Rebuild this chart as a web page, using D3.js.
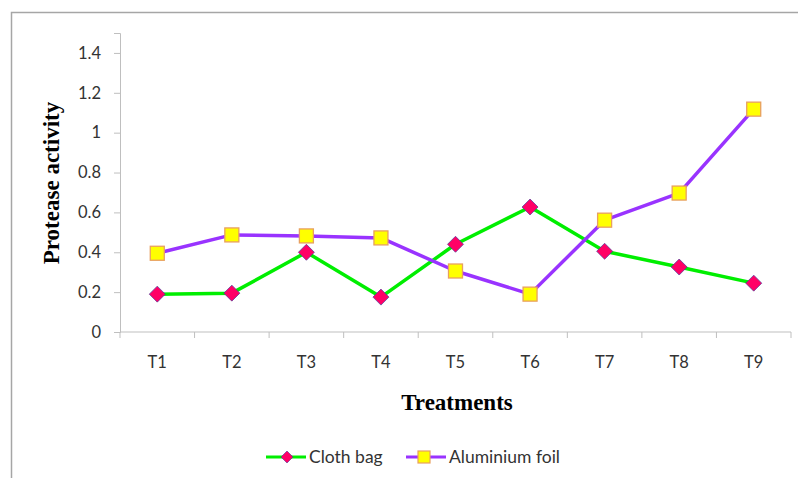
<!DOCTYPE html>
<html>
<head>
<meta charset="utf-8">
<script src="https://cdn.jsdelivr.net/npm/d3@7"></script>
<style>
  body { margin: 0; background: #fff; }
</style>
</head>
<body>
<div class="chart"></div>
<script>
// Données
const treatments = ['T1', 'T2', 'T3', 'T4', 'T5', 'T6', 'T7', 'T8', 'T9'];
const clothBag = [0.19, 0.195, 0.40, 0.175, 0.44, 0.627, 0.405, 0.326, 0.245];
const aluminiumFoil = [0.395, 0.487, 0.482, 0.472, 0.306, 0.19, 0.561, 0.697, 1.118];
const yTicks = [0, 0.2, 0.4, 0.6, 0.8, 1, 1.2, 1.4];

const width = 798;
const height = 478;
const margin = { top: 33, right: 7, bottom: 146, left: 120 };

const svg = d3.select('.chart')
  .append('svg')
  .attr('width', width)
  .attr('height', height);

// cadre (gauche + haut)
svg.append('path')
  .attr('d', `M11.5,${height} V12.5 H${width}`)
  .attr('fill', 'none')
  .attr('stroke', '#a6a6a6')
  .attr('stroke-width', 1.5);

const x = d3.scaleBand()
  .domain(treatments)
  .range([margin.left, width - margin.right]);

const y = d3.scaleLinear()
  .domain([0, 1.5])
  .range([height - margin.bottom, margin.top]);

const axisColor = '#bfbfbf';
const labelFont = 'Lato, "Open Sans", sans-serif';
const titleFont = 'bold 23px "Liberation Serif", "Times New Roman", serif';
const textColor = '#333';

// axe vertical
const yAxis = svg.append('g')
  .attr('transform', `translate(${margin.left},0)`)
  .call(d3.axisLeft(y).tickValues(yTicks).tickSize(6).tickPadding(13)
    .tickFormat(d => d3.format('')(+d.toFixed(1))));
yAxis.select('.domain').attr('stroke', axisColor);
yAxis.selectAll('line').attr('stroke', axisColor);
yAxis.selectAll('text')
  .style('font', `16.5px ${labelFont}`)
  .attr('fill', textColor);

// axe horizontal (ticks entre les catégories)
const xAxis = svg.append('g')
  .attr('transform', `translate(0,${y(0)})`);
xAxis.append('line')
  .attr('x1', margin.left).attr('x2', width - margin.right)
  .attr('stroke', axisColor);
xAxis.selectAll('.tk')
  .data(treatments.concat(['end']))
  .join('line')
    .attr('class', 'tk')
    .attr('x1', (d, i) => margin.left + i * x.bandwidth())
    .attr('x2', (d, i) => margin.left + i * x.bandwidth())
    .attr('y1', 0).attr('y2', 6)
    .attr('stroke', axisColor);
xAxis.selectAll('text')
  .data(treatments)
  .join('text')
    .attr('x', d => x(d) + x.bandwidth() / 2)
    .attr('y', 30)
    .attr('dy', '0.35em')
    .attr('text-anchor', 'middle')
    .style('font', `16.5px ${labelFont}`)
    .attr('fill', textColor)
    .text(d => d);

// titres des axes
svg.append('text')
  .attr('transform', 'translate(51,183) rotate(-90)')
  .attr('text-anchor', 'middle')
  .attr('dy', '0.35em')
  .style('font', titleFont)
  .text('Protease activity');

svg.append('text')
  .attr('x', 457)
  .attr('y', 410)
  .attr('text-anchor', 'middle')
  .style('font', titleFont)
  .text('Treatments');

const series = [
  { name: 'Cloth bag', values: clothBag, color: '#00ee00', marker: 'diamond' },
  { name: 'Aluminium foil', values: aluminiumFoil, color: '#9933ff', marker: 'square' }
];

const line = d3.line()
  .x((d, i) => x(treatments[i]) + x.bandwidth() / 2)
  .y(d => y(d));

function drawMarker(g, type) {
  if (type === 'diamond') {
    g.append('path')
      .attr('d', 'M0,-8 L8,0 L0,8 L-8,0 Z')
      .attr('fill', '#ff0066')
      .attr('stroke', '#4a3a9a')
      .attr('stroke-width', 0.7);
  } else {
    g.append('rect')
      .attr('x', -7).attr('y', -7)
      .attr('width', 14).attr('height', 14)
      .attr('fill', '#ffff00')
      .attr('stroke', '#e8a060')
      .attr('stroke-width', 1.3);
  }
}

series.forEach(s => {
  svg.append('path')
    .datum(s.values)
    .attr('d', line)
    .attr('fill', 'none')
    .attr('stroke', s.color)
    .attr('stroke-width', 3.5)
    .attr('stroke-linejoin', 'round');
});

series.forEach(s => {
  s.values.forEach((v, i) => {
    const g = svg.append('g')
      .attr('transform', `translate(${x(treatments[i]) + x.bandwidth() / 2},${y(v)})`);
    drawMarker(g, s.marker);
  });
});

// légende
const legendY = 457;
const legendX = [266, 406];
series.forEach((s, i) => {
  const lg = svg.append('g').attr('transform', `translate(${legendX[i]},${legendY})`);
  lg.append('line')
    .attr('x1', 0).attr('x2', 40)
    .attr('stroke', s.color)
    .attr('stroke-width', 3);
  const m = lg.append('g').attr('transform', `translate(${s.marker === 'diamond' ? 21 : 18},0)`);
  if (s.marker === 'diamond') {
    m.append('path')
      .attr('d', 'M0,-6 L6,0 L0,6 L-6,0 Z')
      .attr('fill', '#ff0066')
      .attr('stroke', '#4a3a9a')
      .attr('stroke-width', 0.6);
  } else {
    m.append('rect')
      .attr('x', -6).attr('y', -6)
      .attr('width', 12).attr('height', 12)
      .attr('fill', '#ffff00')
      .attr('stroke', '#e8a060')
      .attr('stroke-width', 1.2);
  }
  lg.append('text')
    .attr('x', 43)
    .attr('dy', '0.35em')
    .style('font', `17.5px ${labelFont}`)
    .attr('fill', textColor)
    .text(s.name);
});
</script>
</body>
</html>
